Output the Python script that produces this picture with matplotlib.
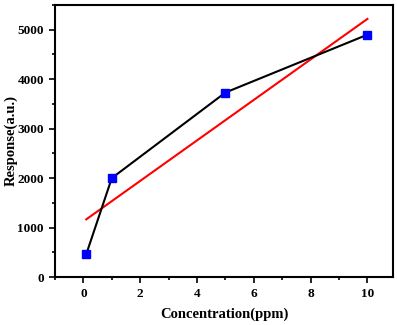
import numpy as np
import matplotlib
matplotlib.use("Agg")
import matplotlib.pyplot as plt
from matplotlib.ticker import MultipleLocator

conc = [0.1, 1, 5, 10]
response = [460, 2000, 3730, 4900]

plt.rcParams['font.family'] = ['Liberation Serif', 'DejaVu Serif']
plt.rcParams['font.weight'] = 'bold'

fig = plt.figure(figsize=(3.97, 3.25), dpi=100)
ax = fig.add_axes([55/397, 1-277/325, (393-55)/397, (277-5)/325])

slope, intercept = np.polyfit(conc, response, 1)
fx = np.array([conc[0], conc[-1]])
ax.plot(fx, slope*fx + intercept, color='red', lw=1.5, zorder=2)
ax.plot(conc, response, color='black', lw=1.5, zorder=3)
ax.plot(conc, response, ls='none', marker='s', ms=6, color='#0000ff', zorder=4)

ax.set_xlim(-1, 10.9)
ax.set_ylim(0, 5500)
ax.xaxis.set_major_locator(MultipleLocator(2))
ax.xaxis.set_minor_locator(MultipleLocator(1))
ax.yaxis.set_major_locator(MultipleLocator(1000))
ax.yaxis.set_minor_locator(MultipleLocator(500))
ax.tick_params(which='both', direction='out', width=1.2, labelsize=9.5)
ax.tick_params(which='major', length=4, pad=4)
ax.tick_params(which='minor', length=2.5)
for lab in ax.get_xticklabels() + ax.get_yticklabels():
    lab.set_fontweight('bold')
for s in ax.spines.values():
    s.set_linewidth(1.5)

ax.set_xlabel('Concentration(ppm)', fontsize=10.5, fontweight='bold')
ax.set_ylabel('Response(a.u.)', fontsize=10.5, fontweight='bold')
ax.xaxis.set_label_coords(0.5, (277-308)/272)
ax.yaxis.set_label_coords((18-55)/338, 0.5)

fig.savefig('out.png', dpi=100)
